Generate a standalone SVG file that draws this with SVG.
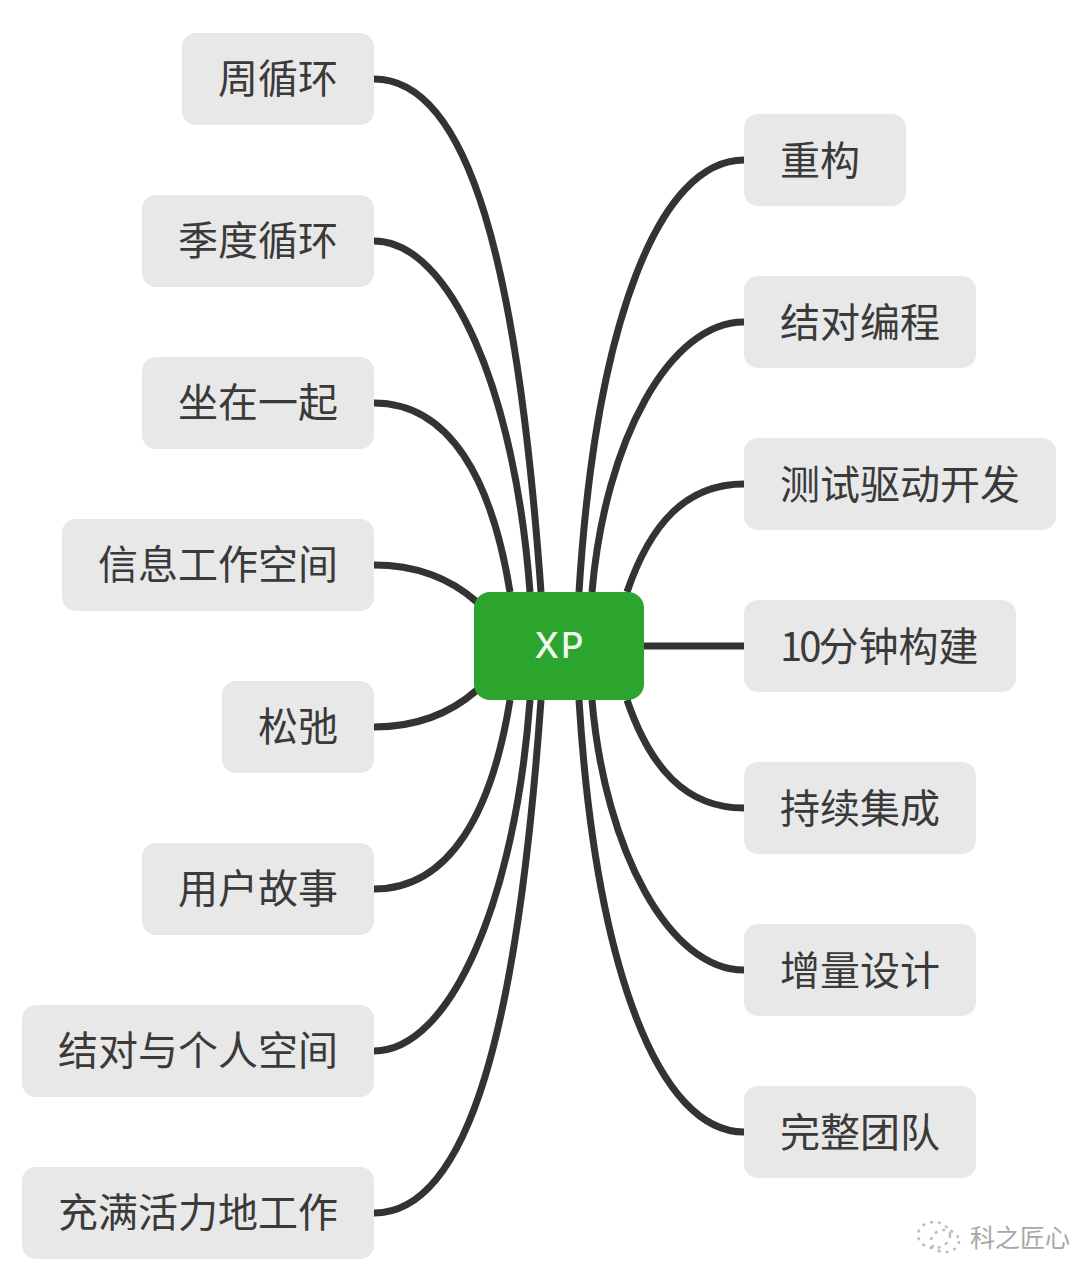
<svg xmlns="http://www.w3.org/2000/svg" width="1070" height="1282" viewBox="0 0 1070 1282">
<style>
.n{fill:#e8e8e8}
.t{font-family:"Noto Sans CJK SC","Noto Sans",sans-serif;font-size:40px;fill:#3a3a3a}
.c{fill:none;stroke:#333;stroke-width:7;stroke-linecap:butt}
.wm{fill:none;stroke:#bdbdbd;stroke-width:2.5;stroke-dasharray:3 5}
</style>
<rect width="1070" height="1282" fill="#fff"/>
<g id="connectors">
<path class="c" d="M374 79C470 79 518 270 541 592"/>
<path class="c" d="M374 241C450 241 515 390 530 592"/>
<path class="c" d="M374 403C450 403 492 480 510 592"/>
<path class="c" d="M374 565C420 565 452 580 477 602"/>
<path class="c" d="M374 727C420 727 452 712 477 690"/>
<path class="c" d="M374 889C450 889 492 812 510 700"/>
<path class="c" d="M374 1051C450 1051 515 902 530 700"/>
<path class="c" d="M374 1213C470 1213 518 1022 541 700"/>
<path class="c" d="M744 160C660 160 596 320 579 592"/>
<path class="c" d="M744 322C670 322 605 440 592 592"/>
<path class="c" d="M744 484C685 484 650 525 627 592"/>
<path class="c" d="M644 646H744"/>
<path class="c" d="M744 808C685 808 650 767 627 700"/>
<path class="c" d="M744 970C670 970 605 852 592 700"/>
<path class="c" d="M744 1132C660 1132 596 972 579 700"/>
</g>
<g id="center"><rect x="474" y="592" width="170" height="108" rx="16" fill="#2ca52f"/><text x="560" y="658" text-anchor="middle" style="font-family:Inter,'Noto Sans',sans-serif;font-size:35px;font-weight:500;letter-spacing:2px;fill:#f1f8ee">XP</text></g>
<g id="l1"><rect class="n" x="182" y="33" width="192" height="92" rx="14"/><text class="t" x="218" y="93">周循环</text></g>
<g id="l2"><rect class="n" x="142" y="195" width="232" height="92" rx="14"/><text class="t" x="178" y="255">季度循环</text></g>
<g id="l3"><rect class="n" x="142" y="357" width="232" height="92" rx="14"/><text class="t" x="178" y="417">坐在一起</text></g>
<g id="l4"><rect class="n" x="62" y="519" width="312" height="92" rx="14"/><text class="t" x="98" y="579">信息工作空间</text></g>
<g id="l5"><rect class="n" x="222" y="681" width="152" height="92" rx="14"/><text class="t" x="258" y="741">松弛</text></g>
<g id="l6"><rect class="n" x="142" y="843" width="232" height="92" rx="14"/><text class="t" x="178" y="903">用户故事</text></g>
<g id="l7"><rect class="n" x="22" y="1005" width="352" height="92" rx="14"/><text class="t" x="58" y="1065">结对与个人空间</text></g>
<g id="l8"><rect class="n" x="22" y="1167" width="352" height="92" rx="14"/><text class="t" x="58" y="1227">充满活力地工作</text></g>
<g id="r1"><rect class="n" x="744" y="114" width="162" height="92" rx="14"/><text class="t" x="780" y="175">重构</text></g>
<g id="r2"><rect class="n" x="744" y="276" width="232" height="92" rx="14"/><text class="t" x="780" y="337">结对编程</text></g>
<g id="r3"><rect class="n" x="744" y="438" width="312" height="92" rx="14"/><text class="t" x="780" y="499">测试驱动开发</text></g>
<g id="r4"><rect class="n" x="744" y="600" width="272" height="92" rx="14"/><text class="t" x="780" y="661"><tspan letter-spacing="-3">10</tspan>分钟构建</text></g>
<g id="r5"><rect class="n" x="744" y="762" width="232" height="92" rx="14"/><text class="t" x="780" y="823">持续集成</text></g>
<g id="r6"><rect class="n" x="744" y="924" width="232" height="92" rx="14"/><text class="t" x="780" y="985">增量设计</text></g>
<g id="r7"><rect class="n" x="744" y="1086" width="232" height="92" rx="14"/><text class="t" x="780" y="1147">完整团队</text></g>
<g id="watermark">
<ellipse class="wm" cx="934" cy="1235" rx="16" ry="13"/>
<ellipse class="wm" cx="945" cy="1241" rx="14" ry="11"/>
<text x="970" y="1247" style="font-family:'Noto Sans CJK SC',sans-serif;font-size:25px;fill:#a8a8a8">科之匠心</text>
</g>
</svg>
